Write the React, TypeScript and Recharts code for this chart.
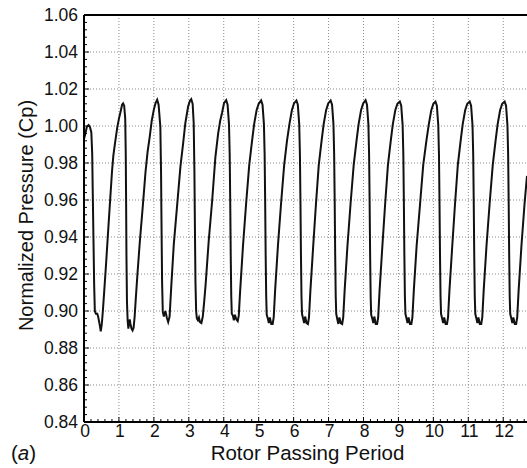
import React from 'react';
import { LineChart, Line, XAxis, YAxis, CartesianGrid, ReferenceLine } from 'recharts';

// Normalized pressure (Cp) vs rotor passing period, one array per passing
const pass00 = [[0.00,0.9930],[0.04,0.9960],[0.08,0.9995],[0.13,1.0005],[0.17,0.9995],[0.21,0.9965],[0.235,0.9850],[0.25,0.9650],[0.27,0.9400],[0.29,0.9150],[0.31,0.9000],[0.34,0.8985],[0.38,0.8985],[0.41,0.8965],[0.45,0.8925],[0.48,0.8890],[0.51,0.8930],[0.54,0.9000],[0.58,0.9110],[0.63,0.9250],[0.68,0.9400],[0.75,0.9605],[0.80,0.9750],[0.84,0.9840],[0.89,0.9910],[0.95,0.9990],[1.00,1.0040],[1.05,1.0080],[1.09,1.0115],[1.12,1.0122]];
const pass01 = [[1.15,1.0110],[1.18,1.0040],[1.195,0.9850],[1.205,0.9600],[1.215,0.9300],[1.23,0.9050],[1.25,0.8945],[1.27,0.8905],[1.29,0.8935],[1.31,0.8955],[1.33,0.8930],[1.36,0.8905],[1.39,0.8895],[1.42,0.8910],[1.45,0.8970],[1.48,0.9060],[1.53,0.9200],[1.60,0.9380],[1.68,0.9560],[1.76,0.9750],[1.82,0.9860],[1.88,0.9940],[1.94,1.0030],[2.00,1.0090],[2.05,1.0125],[2.095,1.0142]];
const pass02 = [[2.135,1.0115],[2.185,0.9996],[2.205,0.9760],[2.215,0.9540],[2.235,0.9160],[2.255,0.8996],[2.285,0.8970],[2.33,0.9000],[2.37,0.8965],[2.41,0.8940],[2.45,0.8970],[2.50,0.9140],[2.57,0.9360],[2.67,0.9580],[2.76,0.9780],[2.84,0.9910],[2.90,1.0015],[2.98,1.0105],[3.03,1.0135],[3.07,1.0145]];
const pass03 = [[3.11,1.0120],[3.14,1.0015],[3.16,0.9760],[3.175,0.9450],[3.19,0.9160],[3.21,0.9000],[3.23,0.8960],[3.26,0.8950],[3.29,0.8965],[3.32,0.8940],[3.36,0.8935],[3.40,0.8970],[3.44,0.9050],[3.48,0.9140],[3.57,0.9380],[3.67,0.9600],[3.76,0.9830],[3.84,0.9960],[3.90,1.0030],[3.95,1.0070],[4.01,1.0125],[4.07,1.0140]];
const pass04 = [[4.11,1.0115],[4.15,1.0010],[4.17,0.9850],[4.185,0.9600],[4.20,0.9300],[4.215,0.9080],[4.23,0.8985],[4.26,0.8975],[4.29,0.8950],[4.32,0.8980],[4.36,0.8955],[4.40,0.8945],[4.43,0.8975],[4.47,0.9110],[4.55,0.9350],[4.64,0.9580],[4.73,0.9790],[4.81,0.9920],[4.87,1.0010],[4.94,1.0085],[5.00,1.0120],[5.07,1.0138]];
const pass05 = [[5.11,1.0115],[5.15,1.0010],[5.17,0.9850],[5.185,0.9600],[5.20,0.9300],[5.215,0.9080],[5.23,0.8980],[5.26,0.8960],[5.29,0.8935],[5.32,0.8965],[5.36,0.8930],[5.40,0.8930],[5.43,0.8965],[5.47,0.9110],[5.55,0.9350],[5.64,0.9580],[5.73,0.9790],[5.81,0.9920],[5.88,1.0010],[5.95,1.0085],[6.01,1.0122],[6.08,1.0138]];
const pass06 = [[6.12,1.0115],[6.16,1.0010],[6.18,0.9850],[6.195,0.9600],[6.21,0.9300],[6.225,0.9080],[6.24,0.8985],[6.27,0.8960],[6.30,0.8935],[6.33,0.8970],[6.37,0.8935],[6.41,0.8930],[6.44,0.8965],[6.48,0.9110],[6.56,0.9350],[6.64,0.9580],[6.72,0.9790],[6.80,0.9920],[6.86,1.0010],[6.93,1.0085],[6.99,1.0122],[7.06,1.0138]];
const pass07 = [[7.10,1.0115],[7.14,1.0010],[7.16,0.9850],[7.175,0.9600],[7.19,0.9300],[7.205,0.9080],[7.22,0.8985],[7.25,0.8955],[7.28,0.8930],[7.31,0.8965],[7.35,0.8935],[7.39,0.8930],[7.42,0.8965],[7.46,0.9110],[7.54,0.9350],[7.63,0.9580],[7.72,0.9790],[7.80,0.9920],[7.86,1.0010],[7.93,1.0085],[7.99,1.0122],[8.06,1.0140]];
const pass08 = [[8.10,1.0115],[8.14,1.0010],[8.16,0.9850],[8.175,0.9600],[8.19,0.9300],[8.205,0.9080],[8.22,0.8980],[8.25,0.8960],[8.28,0.8935],[8.31,0.8970],[8.35,0.8930],[8.39,0.8930],[8.42,0.8965],[8.46,0.9110],[8.54,0.9350],[8.62,0.9580],[8.70,0.9790],[8.78,0.9920],[8.84,1.0010],[8.91,1.0085],[8.97,1.0120],[9.04,1.0132]];
const pass09 = [[9.08,1.0110],[9.12,1.0005],[9.14,0.9850],[9.155,0.9600],[9.17,0.9300],[9.185,0.9080],[9.20,0.8985],[9.23,0.8960],[9.26,0.8935],[9.29,0.8965],[9.33,0.8930],[9.37,0.8930],[9.40,0.8965],[9.44,0.9110],[9.52,0.9350],[9.62,0.9580],[9.71,0.9790],[9.80,0.9920],[9.87,1.0010],[9.94,1.0085],[10.00,1.0120],[10.06,1.0132]];
const pass10 = [[10.10,1.0110],[10.14,1.0005],[10.16,0.9850],[10.175,0.9600],[10.19,0.9300],[10.205,0.9080],[10.22,0.8985],[10.25,0.8960],[10.28,0.8935],[10.31,0.8965],[10.35,0.8930],[10.39,0.8930],[10.42,0.8965],[10.46,0.9110],[10.54,0.9350],[10.62,0.9580],[10.70,0.9790],[10.78,0.9920],[10.84,1.0010],[10.91,1.0085],[10.97,1.0120],[11.04,1.0132]];
const pass11 = [[11.08,1.0110],[11.12,1.0005],[11.14,0.9850],[11.155,0.9600],[11.17,0.9300],[11.185,0.9080],[11.20,0.8985],[11.23,0.8960],[11.26,0.8935],[11.29,0.8965],[11.33,0.8930],[11.37,0.8930],[11.40,0.8965],[11.44,0.9110],[11.52,0.9350],[11.61,0.9580],[11.70,0.9790],[11.78,0.9920],[11.84,1.0010],[11.91,1.0085],[11.97,1.0120],[12.04,1.0132]];
const pass12 = [[12.08,1.0110],[12.12,1.0005],[12.14,0.9850],[12.155,0.9600],[12.17,0.9300],[12.185,0.9080],[12.20,0.8985],[12.23,0.8960],[12.26,0.8935],[12.29,0.8965],[12.33,0.8930],[12.37,0.8930],[12.40,0.8965],[12.44,0.9110],[12.52,0.9350],[12.61,0.9580],[12.68,0.9730]];

const passes = [pass00, pass01, pass02, pass03, pass04, pass05, pass06, pass07, pass08, pass09, pass10, pass11, pass12];
const chartData = passes.flat().map(([t, cp]) => ({ t, cp }));

const xMajorTicks = [0, 1, 2, 3, 4, 5, 6, 7, 8, 9, 10, 11, 12];
const yMajorTicks = [0.84, 0.86, 0.88, 0.90, 0.92, 0.94, 0.96, 0.98, 1.00, 1.02, 1.04, 1.06];
const xDomain = [0, 12.68];
const yDomain = [0.84, 1.06];

const r3 = (v: number) => Math.round(v * 1000) / 1000;
const xAllTicks: number[] = [];
xMajorTicks.forEach((m) => { for (let k = 0; k < 5; k++) { const v = r3(m + k * 0.2); if (v <= xDomain[1]) xAllTicks.push(v); } });
const yAllTicks: number[] = [];
yMajorTicks.forEach((m, i) => { const n = i < yMajorTicks.length - 1 ? 5 : 1; for (let k = 0; k < n; k++) yAllTicks.push(r3(m + k * 0.004)); });

const isXMajor = (v: number) => Math.abs(v - Math.round(v)) < 1e-6;
const isYMajor = (v: number) => Math.abs(v * 50 - Math.round(v * 50)) < 1e-6;

const FONT = "'Liberation Sans', Arial, Helvetica, sans-serif";

const YTick = (props: any) => {
  const { x, y, payload } = props;
  const v = payload.value as number;
  const major = isYMajor(v);
  const ax = x + 6;
  return (
    <g>
      <line x1={ax} x2={ax + (major ? 5 : 3)} y1={y} y2={y} stroke="#000" strokeWidth={1} />
      {major && (
        <text x={x} y={y} dy={6} textAnchor="end" fontSize={17.5} fontFamily={FONT} fill="#111">
          {v.toFixed(2)}
        </text>
      )}
    </g>
  );
};

const XTick = (props: any) => {
  const { x, y, payload } = props;
  const v = payload.value as number;
  const major = isXMajor(v);
  return (
    <g>
      <line x1={x} x2={x} y1={y} y2={y - (major ? 5 : 3)} stroke="#000" strokeWidth={1} />
      {major && (
        <text x={x + 1} y={y + 15} textAnchor="middle" fontSize={17.5} fontFamily={FONT} fill="#111">
          {String(v)}
        </text>
      )}
    </g>
  );
};

const XTitle = (props: any) => {
  const vb = props.viewBox || {};
  const cx = vb.x + vb.width / 2 + 2;
  return (
    <g>
      <text x={cx} y={460} textAnchor="middle" fontSize={20.5} fontFamily={FONT} fill="#111">Rotor Passing Period</text>
      <text x={11} y={460} fontSize={20.5} fontFamily={FONT} fill="#111">(<tspan fontStyle="italic">a</tspan>)</text>
    </g>
  );
};

const YTitle = (props: any) => {
  const vb = props.viewBox || {};
  const cy = vb.y + vb.height / 2 - 3;
  return (
    <text x={0} y={0} transform={`translate(33, ${cy}) rotate(-90)`} textAnchor="middle" fontSize={20} fontFamily={FONT} fill="#111">
      Normalized Pressure (Cp)
    </text>
  );
};

export default function App() {
  return (
    <div style={{ position: 'absolute', left: 0, top: 0, width: 527, height: 468, background: '#fff' }}>
      <LineChart width={527} height={468} data={chartData} margin={{ top: 15, right: 0, bottom: 0, left: 0 }}>
        <CartesianGrid
          horizontalValues={yMajorTicks}
          verticalValues={xMajorTicks}
          stroke="#8a8a8a"
          strokeDasharray="1 2"
          strokeWidth={1}
        />
        <XAxis
          dataKey="t"
          type="number"
          domain={xDomain}
          ticks={xAllTicks}
          interval={0}
          allowDataOverflow
          height={46}
          tickSize={0}
          tickMargin={0}
          tick={<XTick />}
          axisLine={{ stroke: '#000', strokeWidth: 2 }}
          tickLine={false}
          label={{ content: <XTitle /> }}
        />
        <YAxis
          type="number"
          domain={yDomain}
          ticks={yAllTicks}
          interval={0}
          allowDataOverflow
          width={84}
          tickSize={0}
          tickMargin={6}
          tick={<YTick />}
          axisLine={{ stroke: '#000', strokeWidth: 2 }}
          tickLine={false}
          label={{ content: <YTitle /> }}
        />
        <ReferenceLine y={1.06} stroke="#000" strokeWidth={2} />
        <Line
          type="linear"
          dataKey="cp"
          stroke="#111"
          strokeWidth={2}
          dot={false}
          isAnimationActive={false}
        />
      </LineChart>
    </div>
  );
}
